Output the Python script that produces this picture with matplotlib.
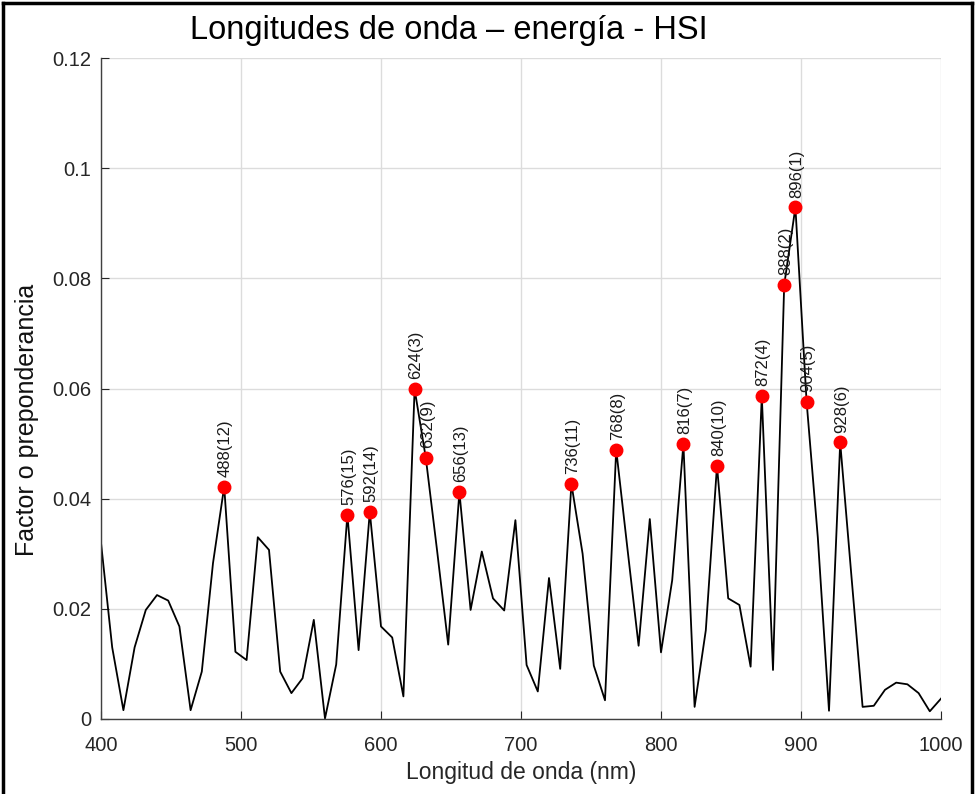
import matplotlib
matplotlib.use("Agg")
import matplotlib.pyplot as plt
from matplotlib.lines import Line2D

plt.rcParams['font.family'] = ['Liberation Sans', 'DejaVu Sans']

# longitudes de onda (nm), paso de 8 nm
wavelengths = list(range(400, 1001, 8))

# factor o preponderancia
factor = [0.032, 0.013, 0.0016, 0.013, 0.0198, 0.0225, 0.0215, 0.0168, 0.0016, 0.0086,
          0.0283, 0.0422, 0.0122, 0.0107, 0.033, 0.0307, 0.0086, 0.0047, 0.0074, 0.018,
          0.0001, 0.0099, 0.0371, 0.0125, 0.0376, 0.0168, 0.0148, 0.0041, 0.0599, 0.0474,
          0.0307, 0.0135, 0.0412, 0.0198, 0.0304, 0.0219, 0.0197, 0.0361, 0.0098, 0.005,
          0.0256, 0.0091, 0.0427, 0.030, 0.0097, 0.0034, 0.0489, 0.031, 0.0133, 0.0363,
          0.0121, 0.0252, 0.0499, 0.0022, 0.0161, 0.046, 0.0219, 0.0207, 0.0095, 0.0586,
          0.0089, 0.0788, 0.0929, 0.0576, 0.033, 0.0015, 0.0502, 0.026, 0.0022, 0.0024,
          0.0053, 0.0066, 0.0063, 0.0047, 0.0014, 0.0037]

# picos seleccionados y su orden
peaks = [488, 576, 592, 624, 632, 656, 736, 768, 816, 840, 872, 888, 896, 904, 928]
ranks = [12, 15, 14, 3, 9, 13, 11, 8, 7, 10, 4, 2, 1, 5, 6]

xticks = [400, 500, 600, 700, 800, 900, 1000]
yticks = [0, 0.02, 0.04, 0.06, 0.08, 0.1, 0.12]
yticklabels = ['0', '0.02', '0.04', '0.06', '0.08', '0.1', '0.12']

fig = plt.figure(figsize=(9.79, 7.94), dpi=100)
ax = fig.add_axes([101 / 979, 75 / 794, 840 / 979, 661 / 794])

ax.plot(wavelengths, factor, color='black', linewidth=1.3, zorder=2)

peak_vals = [factor[wavelengths.index(p)] for p in peaks]
ax.plot(peaks, peak_vals, 'o', color='red', markersize=9, zorder=3)
for p, v, r in zip(peaks, peak_vals, ranks):
    ax.annotate(f'{p}({r})', (p, v), xytext=(1, 7), textcoords='offset points',
                rotation=90, ha='center', va='bottom', fontsize=12, color='#1a1a1a')

ax.set_xlim(400, 1000)
ax.set_ylim(0, 0.12)
ax.set_xticks(xticks)
ax.set_yticks(yticks)
ax.set_yticklabels(yticklabels)
ax.grid(True, color='#dcdcdc', linewidth=1.0)
ax.set_axisbelow(True)
ax.tick_params(direction='in', length=6, labelsize=14.5, colors='#262626')
ax.tick_params(axis='x', pad=12)
ax.tick_params(axis='y', pad=7)
for side in ['top', 'right']:
    ax.spines[side].set_visible(False)
for side in ['left', 'bottom']:
    ax.spines[side].set_color('#404040')
    ax.spines[side].set_linewidth(1.0)

ax.set_xlabel('Longitud de onda (nm)', fontsize=16.5, color='#262626')
ax.set_ylabel('Factor o preponderancia', fontsize=18, color='#111111')
ax.xaxis.set_label_coords(0.5, -0.063)
ax.yaxis.set_label_coords(-0.074, 0.452)

fig.text(449 / 979, 763 / 794, 'Longitudes de onda \u2013 energía - HSI',
         ha='center', va='center', fontsize=23.5, color='black')

# marco negro de la captura
for xs, ys in [([3, 3], [0, 791]), ([972, 972], [0, 791]), ([3, 972], [791, 791])]:
    fig.add_artist(Line2D([x / 979 for x in xs], [y / 794 for y in ys],
                          color='black', linewidth=2.5))

fig.savefig('out.png', dpi=100)
